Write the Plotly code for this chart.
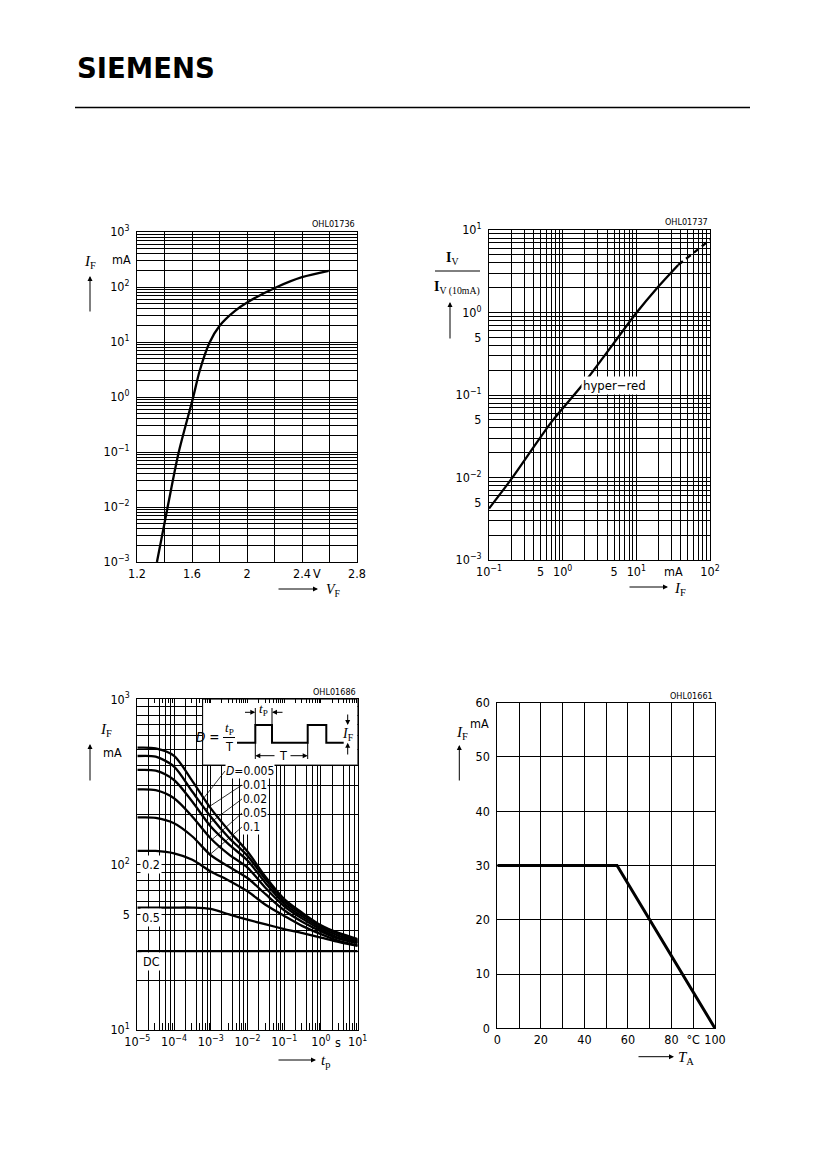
import math
import numpy as np
import plotly.graph_objects as go

W, H = 826, 1169
FONT = "Liberation Sans Narrow, DejaVu Sans Condensed, Liberation Sans, Arial, sans-serif"
SERIF = "Liberation Serif, DejaVu Serif, serif"

# ---------------- Chart 1: I_F vs V_F ----------------
vf_v = [1.345, 1.423, 1.503, 1.607, 1.656, 1.728, 1.801, 1.915, 2.007, 2.218, 2.400, 2.594]
if_vs_vf_ma = [0.001, 0.01, 0.0977, 0.955, 3.0, 9.8, 19.8, 37.3, 53.4, 100, 151, 197]
vf_grid = [1.2, 1.4, 1.6, 1.8, 2.0, 2.2, 2.4, 2.6, 2.8]
vf_ticktext = ["1.2", "", "1.6", "", "2", "", "2.4", "", "2.8"]
c1_decades = [-3, -2, -1, 0, 1, 2, 3]
c1_decade_text = ["10<sup>−3</sup>", "10<sup>−2</sup>", "10<sup>−1</sup>", "10<sup>0</sup>",
                  "10<sup>1</sup>", "10<sup>2</sup>", "10<sup>3</sup>"]

# ---------------- Chart 2: relative luminous intensity vs I_F ----------------
if_rel_ma = [0.1, 0.193, 0.71, 2.01, 10.1, 18.9, 37.0]
iv_rel = [0.0042, 0.0091, 0.0475, 0.145, 1.0, 1.96, 3.77]
if_rel_dash_ma = [37.0, 100.0]
iv_rel_dash = [3.77, 7.57]
c2x_labels_vals = [0.1, 0.5, 1, 5, 10, 100]
c2x_labels_text = ["10<sup>−1</sup>", "5", "10<sup>0</sup>", "5", "10<sup>1</sup>", "10<sup>2</sup>"]
c2y_labels_vals = [0.001, 0.005, 0.01, 0.05, 0.1, 0.5, 1, 10]
c2y_labels_text = ["10<sup>−3</sup>", "5", "10<sup>−2</sup>", "5", "10<sup>−1</sup>", "5",
                   "10<sup>0</sup>", "10<sup>1</sup>"]

# ---------------- Chart 3: permissible pulse handling ----------------
tp_s = [1e-5, 3.16e-5, 1e-4, 3.16e-4, 1e-3, 3.16e-3, 1e-2, 3.16e-2, 0.1, 0.316, 1.0, 3.16, 10.0]
if_d0005 = [510, 505, 455, 320, 219, 160, 120, 84, 62, 51, 43, 38.5, 35.5]
if_d001 = [454, 450, 392, 276, 195, 145, 113, 81, 60, 50, 42.5, 38, 35]
if_d002 = [374, 370, 325, 240, 170, 132, 106, 77, 58, 48.5, 41.5, 37, 34.5]
if_d005 = [285, 282, 252, 195, 144, 115, 96, 72, 56, 47, 40.5, 36, 34]
if_d01 = [193, 192, 178, 148, 114, 97, 83, 66, 53, 45, 39.5, 35.5, 33.5]
if_d02 = [121, 121, 117, 107, 91, 80, 69, 57, 49, 42.5, 38, 34.5, 32.5]
if_d05 = [55, 55, 55, 55, 54, 50, 46.5, 43.5, 40.8, 38.5, 36.2, 34, 32.3]
tp_dc_s = [1e-5, 10.0]
if_dc = [30, 30]
c3x_text = ["10<sup>−5</sup>", "10<sup>−4</sup>", "10<sup>−3</sup>", "10<sup>−2</sup>",
            "10<sup>−1</sup>", "10<sup>0</sup>", "10<sup>1</sup>"]
c3y_labels_vals = [10, 50, 100, 1000]
c3y_labels_text = ["10<sup>1</sup>", "5", "10<sup>2</sup>", "10<sup>3</sup>"]

# ---------------- Chart 4: max permissible I_F vs T_A ----------------
ta_c = [0, 55, 100]
if_max_ma = [30, 30, 0]
ta_grid = [0, 10, 20, 30, 40, 50, 60, 70, 80, 90, 100]
ta_text = ["0", "", "20", "", "40", "", "60", "", "80", "°C", "100"]
if_grid = [0, 10, 20, 30, 40, 50, 60]

# chart 3 domain in page pixels
C3_X0, C3_X1, C3_Y0, C3_Y1 = 137.3, 357.7, 699.3, 1030.0


def fx(p):
    return p / W


def fy(p):
    return 1 - p / H


def log_grid(e_lo, e_hi, mults):
    vals = []
    for e in range(e_lo, e_hi):
        for m in mults:
            vals.append(m * 10 ** e)
    vals.append(10 ** e_hi)
    return vals


def labelled(vals, lab_vals, lab_text):
    out = []
    for v in vals:
        t = ""
        for lv, lt in zip(lab_vals, lab_text):
            if abs(math.log10(v) - math.log10(lv)) < 1e-6:
                t = lt
        out.append(t)
    return out


ALL = [1, 2, 3, 4, 5, 6, 7, 8, 9]

fig = go.Figure()
LW = 2.3

# chart 1
fig.add_trace(go.Scatter(x=vf_v, y=if_vs_vf_ma, mode="lines", xaxis="x", yaxis="y",
                         line=dict(color="black", width=LW, shape="spline", smoothing=0.8)))
# chart 2
fig.add_trace(go.Scatter(x=if_rel_ma, y=iv_rel, mode="lines", xaxis="x2", yaxis="y2",
                         line=dict(color="black", width=LW, shape="spline", smoothing=0.6)))
fig.add_trace(go.Scatter(x=if_rel_dash_ma, y=iv_rel_dash, mode="lines", xaxis="x2", yaxis="y2",
                         line=dict(color="black", width=LW, dash="6px,4px")))
# chart 3 inset box (white)
fig.add_trace(go.Scatter(x=[6e-4, 10, 10, 6e-4, 6e-4], y=[400, 400, 1000, 1000, 400],
                         mode="lines", fill="toself", fillcolor="white",
                         line=dict(color="black", width=1), xaxis="x3", yaxis="y3"))
for ys in [if_d0005, if_d001, if_d002, if_d005, if_d01, if_d02, if_d05]:
    fig.add_trace(go.Scatter(x=tp_s, y=ys, mode="lines", xaxis="x3", yaxis="y3",
                             line=dict(color="black", width=LW, shape="spline", smoothing=0.8)))
fig.add_trace(go.Scatter(x=tp_dc_s, y=if_dc, mode="lines", xaxis="x3", yaxis="y3",
                         line=dict(color="black", width=LW)))
fig.add_trace(go.Scatter(x=[1e-5], y=[10], mode="markers", marker=dict(opacity=0),
                         xaxis="x5", yaxis="y3", hoverinfo="skip"))
fig.add_trace(go.Scatter(x=[1e-5], y=[10], mode="markers", marker=dict(opacity=0),
                         xaxis="x6", yaxis="y3", hoverinfo="skip"))
# chart 4
fig.add_trace(go.Scatter(x=ta_c, y=if_max_ma, mode="lines", xaxis="x4", yaxis="y4",
                         line=dict(color="black", width=3.0)))

base = dict(showline=True, mirror=True, linecolor="black", linewidth=1, showgrid=True,
            gridcolor="black", gridwidth=1, ticks="", zeroline=False, tickmode="array",
            automargin=False,
            tickfont=dict(family=FONT, size=12.5, color="black"))

c1y = log_grid(-3, 3, ALL)
c2x = log_grid(-1, 2, ALL)
c2y = log_grid(-3, 1, ALL)
c3x = log_grid(-5, 1, [1, 2, 4, 6, 8])
c3x_minor = log_grid(-5, 1, ALL)
c3y = log_grid(1, 3, ALL)

over = dict(type="log", range=[-5, 1], overlaying="x3", anchor="y3",
            domain=[fx(C3_X0), fx(C3_X1)], automargin=False,
            tickmode="array", tickvals=c3x_minor, ticks="inside",
            tickcolor="black", tickwidth=1, showticklabels=False, showgrid=False,
            showline=False, zeroline=False)

XSO = 0
fig.update_layout(
    width=W, height=H, margin=dict(l=0, r=0, t=0, b=0, pad=0, autoexpand=False),
    paper_bgcolor="white", plot_bgcolor="white", showlegend=False,
    xaxis=dict(base, domain=[fx(137), fx(357)], anchor="y", range=[1.2, 2.8],
               tickvals=vf_grid, ticktext=vf_ticktext, ticklabelstandoff=XSO),
    yaxis=dict(base, domain=[fy(562), fy(232)], anchor="x", type="log", range=[-3, 3],
               tickvals=c1y, ticktext=labelled(c1y, [10 ** e for e in c1_decades], c1_decade_text),
               ticklabelstandoff=4),
    xaxis2=dict(base, domain=[fx(489), fx(710)], anchor="y2", type="log", range=[-1, 2],
                tickvals=c2x, ticktext=labelled(c2x, c2x_labels_vals, c2x_labels_text),
                ticklabelstandoff=XSO),
    yaxis2=dict(base, domain=[fy(560), fy(230)], anchor="x2", type="log", range=[-3, 1],
                tickvals=c2y, ticktext=labelled(c2y, c2y_labels_vals, c2y_labels_text),
                ticklabelstandoff=4),
    xaxis3=dict(base, domain=[fx(C3_X0), fx(C3_X1)], anchor="y3", type="log", range=[-5, 1],
                tickvals=c3x, ticktext=labelled(c3x, [10 ** e for e in range(-5, 2)], c3x_text),
                ticklabelstandoff=XSO),
    yaxis3=dict(base, domain=[fy(C3_Y1), fy(C3_Y0)], anchor="x3", type="log", range=[1, 3],
                tickvals=c3y, ticktext=labelled(c3y, c3y_labels_vals, c3y_labels_text),
                ticklabelstandoff=4),
    xaxis5=dict(over, side="bottom", ticklen=7),
    xaxis6=dict(over, side="top", ticklen=4),
    xaxis4=dict(base, domain=[fx(497.3), fx(715)], anchor="y4", range=[0, 100],
                tickvals=ta_grid, ticktext=ta_text, ticklabelstandoff=XSO),
    yaxis4=dict(base, domain=[fy(1028.3), fy(702.7)], anchor="x4", range=[0, 60],
                tickvals=if_grid, ticktext=[str(v) for v in if_grid], ticklabelstandoff=4),
)

ann = []
shapes = []


def txt(x, y, s, size=12.5, anchor="center", family=FONT, bg=None, yanchor="middle"):
    d = dict(xref="paper", yref="paper", x=fx(x), y=fy(y), text=s, showarrow=False,
             xanchor=anchor, yanchor=yanchor, font=dict(size=size, family=family, color="black"))
    if bg:
        d["bgcolor"] = bg
        d["borderpad"] = 1
    return d


def arrow(x0, y0, x1, y1, head=2, size=1.0):
    return dict(xref="paper", yref="paper", x=fx(x1), y=fy(y1), ax=x0 - x1, ay=y0 - y1,
                axref="pixel", ayref="pixel", showarrow=True, arrowhead=head, arrowsize=size,
                arrowwidth=1, arrowcolor="black", text="", standoff=0, startstandoff=0)


def line(x0, y0, x1, y1, w=1):
    return dict(type="line", xref="paper", yref="paper", x0=fx(x0), y0=fy(y0), x1=fx(x1),
                y1=fy(y1), line=dict(color="black", width=w))


# header
ann.append(txt(75, 68, "<b>SIEMENS</b>", size=27.5, anchor="left",
               family="DejaVu Sans, Open Sans, sans-serif"))
shapes.append(line(75, 107.5, 750, 107.5, 1.3))

# chart IDs
for (x, y, s) in [(357, 224, "OHL01736"), (710, 222, "OHL01737"),
                  (357.7, 692, "OHL01686"), (715, 696, "OHL01661")]:
    ann.append(txt(x, y, s, size=9, anchor="right"))

# chart 1 labels
ann.append(txt(90, 262, "<i>I</i><sub>F</sub>", size=15, family=SERIF))
ann.append(arrow(90, 313, 90, 276))
ann.append(txt(122, 260, "mA", size=12.5))
ann.append(txt(316.7, 573, "V", size=12.5))
ann.append(arrow(277, 589, 318, 589))
ann.append(txt(324, 590, "<i>V</i><sub>F</sub>", size=14, anchor="left", family=SERIF))

# chart 2 labels
ann.append(txt(453, 259, "<b>I</b><sub>V</sub>", size=14, family=SERIF))
shapes.append(line(435, 271, 480, 271, 1))
ann.append(txt(457, 288, "<b>I</b><sub>V (10mA)</sub>", size=14, family=SERIF))
ann.append(arrow(450, 340, 450, 302))
ann.append(txt(673.3, 572, "mA", size=12.5))
ann.append(arrow(628, 587, 668, 587))
ann.append(txt(672, 589, "<i>I</i><sub>F</sub>", size=15, anchor="left", family=SERIF))
ann.append(txt(614, 385, "hyper−red", size=13, bg="white"))

# chart 3 labels
ann.append(txt(106, 730, "<i>I</i><sub>F</sub>", size=15, family=SERIF))
ann.append(txt(112, 752, "mA", size=12.5))
ann.append(arrow(90, 782, 90, 744))
ann.append(txt(338.3, 1042, "s", size=12.5))
ann.append(arrow(277, 1060, 316, 1060))
ann.append(txt(319, 1061, "<i>t</i><sub>p</sub>", size=15, anchor="left", family=SERIF))
ann.append(txt(139.5, 864, "0.2", size=12.5, anchor="left", bg="white"))
ann.append(txt(139.5, 917, "0.5", size=12.5, anchor="left", bg="white"))
ann.append(txt(141, 961, "DC", size=12.5, anchor="left", bg="white"))

# curve labels: (text, series, leader target log10(tp), label left px, label centre px)
curve_labels = [("<i>D</i>=0.005", if_d0005, -3.19, 225, 771),
                ("0.01", if_d001, -3.149, 242, 785),
                ("0.02", if_d002, -3.056, 242, 799),
                ("0.05", if_d005, -2.966, 242, 813),
                ("0.1", if_d01, -3.02, 242, 827)]
log_tp = np.log10(tp_s)
for s, ys, lt, lx, lyp in curve_labels:
    ly = float(np.interp(lt, log_tp, np.log10(ys)))
    tx_px = C3_X0 + (lt + 5) / 6 * (C3_X1 - C3_X0)
    ty_px = C3_Y1 - (ly - 1) / 2 * (C3_Y1 - C3_Y0)
    ann.append(dict(xref="x3", yref="y3", x=lt, y=ly, ax=lx - tx_px, ay=lyp - ty_px,
                    axref="pixel", ayref="pixel", text=s, showarrow=True, arrowhead=0,
                    arrowwidth=0.8, arrowcolor="black", xanchor="left", yanchor="middle",
                    standoff=0, bgcolor="white", borderpad=0,
                    font=dict(size=12, family=FONT, color="black")))

# inset: pulse diagram
wave = [(237, 742.7), (255.3, 742.7), (255.3, 725), (272, 725), (272, 742.7), (307.7, 742.7),
        (307.7, 725), (326.3, 725), (326.3, 742.7), (343.7, 742.7)]
path = "M " + " L ".join(f"{fx(a):.5f},{fy(b):.5f}" for a, b in wave)
shapes.append(dict(type="path", xref="paper", yref="paper", path=path,
                   line=dict(color="black", width=2)))
shapes.append(line(255.3, 725, 255.3, 708, 1))
shapes.append(line(272, 725, 272, 708, 1))
shapes.append(line(255.3, 742.7, 255.3, 759, 1))
shapes.append(line(307.7, 742.7, 307.7, 759, 1))
ann.append(arrow(243.5, 712.3, 255.3, 712.3))
ann.append(arrow(284, 712.3, 272, 712.3))
ann.append(txt(263.6, 709, "<i>t</i><sub>P</sub>", size=13, family=SERIF))
ann.append(arrow(276, 755.7, 255.3, 755.7))
ann.append(arrow(289, 755.7, 307.7, 755.7))
ann.append(txt(282.5, 755.7, "T", size=12.5))
ann.append(arrow(347.7, 713, 347.7, 725))
ann.append(arrow(347.7, 756, 347.7, 742.7))
ann.append(txt(348, 734, "<i>I</i><sub>F</sub>", size=14, family=SERIF))
ann.append(txt(221, 737, "<i>D</i> =", size=13.5, anchor="right"))
ann.append(txt(229, 728.5, "<i>t</i><sub>P</sub>", size=13, family=SERIF))
shapes.append(line(223, 737.5, 235, 737.5, 1))
ann.append(txt(229, 746, "T", size=12.5))

# chart 4 labels
ann.append(txt(461.7, 733, "<i>I</i><sub>F</sub>", size=15, family=SERIF))
ann.append(txt(480, 723, "mA", size=12.5))
ann.append(arrow(459.3, 782, 459.3, 745))
ann.append(arrow(637, 1056.7, 674, 1056.7))
ann.append(txt(676, 1058, "<i>T</i><sub>A</sub>", size=15, anchor="left", family=SERIF))

fig.update_layout(annotations=ann, shapes=shapes)
fig.write_html("out.html", config={"displayModeBar": False},
               post_script="document.body.style.margin='0px';")
